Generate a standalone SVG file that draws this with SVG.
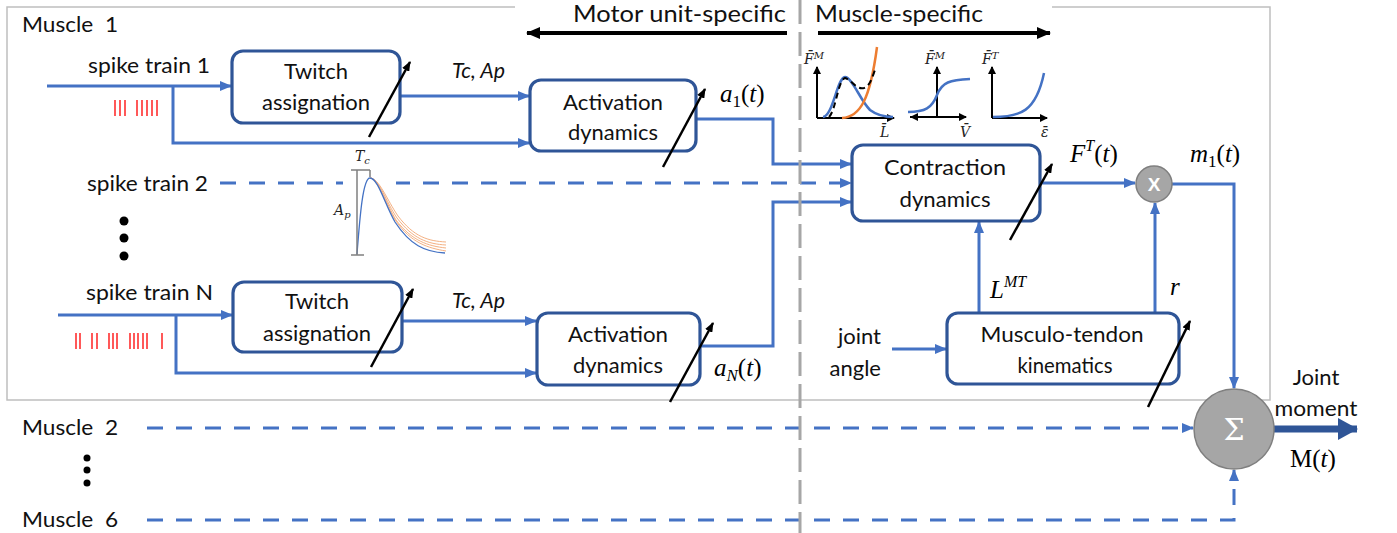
<svg xmlns="http://www.w3.org/2000/svg" width="1397" height="533" viewBox="0 0 1397 533">
  <style>
    .lbl { font-family: Lato, "Open Sans", "Liberation Sans", sans-serif; font-weight: 400; font-size: 22px; fill: #111; }
    .hdr { font-family: Lato, "Open Sans", "Liberation Sans", sans-serif; font-weight: 400; font-size: 23px; fill: #111; }
    .box { fill: #fff; stroke: #2F5597; stroke-width: 3.2; }
    .wire { fill: none; stroke: #4472C4; stroke-width: 3; }
    .dash { fill: none; stroke: #4472C4; stroke-width: 3; stroke-dasharray: 16 13; }
    .tune { fill: none; stroke: #000; stroke-width: 2.5; }
    .math { font-family: "Liberation Serif", "DejaVu Serif", serif; font-size: 25px; fill: #000; }
    .small { font-family: "DejaVu Serif", "Liberation Serif", serif; font-style: italic; font-size: 14px; fill: #222; }
    .spk { fill: none; stroke: #FF0000; stroke-width: 1.3; }
    .axis { fill: none; stroke: #000; stroke-width: 2; }
  </style>
  <defs>
    <marker id="ah" viewBox="0 0 12 10" refX="11" refY="5" markerWidth="12" markerHeight="10" markerUnits="userSpaceOnUse" orient="auto">
      <path d="M0,0 L12,5 L0,10 z" fill="#4472C4"/>
    </marker>
    <marker id="ak" viewBox="0 0 10 8" refX="9" refY="4" markerWidth="10" markerHeight="8" markerUnits="userSpaceOnUse" orient="auto">
      <path d="M0,0 L10,4 L0,8 z" fill="#000"/>
    </marker>
    <marker id="ahd" viewBox="0 0 14 12" refX="13" refY="6" markerWidth="14" markerHeight="12" markerUnits="userSpaceOnUse" orient="auto">
      <path d="M0,0 L14,6 L0,12 z" fill="#000"/>
    </marker>
    <marker id="ax" viewBox="0 0 8 8" refX="7" refY="4" markerWidth="8" markerHeight="8" markerUnits="userSpaceOnUse" orient="auto">
      <path d="M0,0 L8,4 L0,8 z" fill="#000"/>
    </marker>
    <marker id="big" viewBox="0 0 20 22" refX="19" refY="11" markerWidth="20" markerHeight="22" markerUnits="userSpaceOnUse" orient="auto">
      <path d="M0,0 L20,11 L0,22 z" fill="#2F5597"/>
    </marker>
  </defs>

  <rect width="1397" height="533" fill="#fff"/>

  <!-- muscle 1 frame, open at the top where the header sits -->
  <path d="M515,7 H7 V400 H1270 V7 H1052" fill="none" stroke="#BFBFBF" stroke-width="1.5"/>

  <!-- header -->
  <g id="header">
    <text class="hdr" x="573" y="22" textLength="213" lengthAdjust="spacingAndGlyphs">Motor unit-specific</text>
    <text class="hdr" x="815" y="22" textLength="168" lengthAdjust="spacingAndGlyphs">Muscle-specific</text>
    <line x1="787" y1="33" x2="527" y2="33" stroke="#000" stroke-width="4" marker-end="url(#ahd)"/>
    <line x1="818" y1="33" x2="1050" y2="33" stroke="#000" stroke-width="4" marker-end="url(#ahd)"/>
  </g>

  <!-- side labels -->
  <g id="labels">
    <text class="lbl" x="22" y="32" textLength="96" lengthAdjust="spacingAndGlyphs" xml:space="preserve">Muscle  1</text>
    <text class="lbl" x="88" y="73" textLength="122" lengthAdjust="spacingAndGlyphs">spike train 1</text>
    <text class="lbl" x="87" y="191" textLength="121" lengthAdjust="spacingAndGlyphs">spike train 2</text>
    <text class="lbl" x="86" y="300" textLength="127" lengthAdjust="spacingAndGlyphs">spike train N</text>
    <text class="lbl" x="22" y="435" textLength="96" lengthAdjust="spacingAndGlyphs" xml:space="preserve">Muscle  2</text>
    <text class="lbl" x="22" y="527" textLength="96" lengthAdjust="spacingAndGlyphs" xml:space="preserve">Muscle  6</text>
    <text class="lbl" x="881" y="344" text-anchor="end">joint</text>
    <text class="lbl" x="881" y="376" text-anchor="end">angle</text>
    <text class="lbl" x="1316" y="385" text-anchor="middle">Joint</text>
    <text class="lbl" x="1316" y="416" text-anchor="middle" textLength="83" lengthAdjust="spacingAndGlyphs">moment</text>
    <text class="lbl" x="452" y="78" font-style="italic" font-weight="300" textLength="53" lengthAdjust="spacingAndGlyphs">Tc, Ap</text>
    <text class="lbl" x="452" y="308" font-style="italic" font-weight="300" textLength="53" lengthAdjust="spacingAndGlyphs">Tc, Ap</text>
    <!-- ellipses -->
    <circle cx="124" cy="221" r="4.5" fill="#000"/>
    <circle cx="124" cy="238" r="4.5" fill="#000"/>
    <circle cx="124" cy="256" r="4.5" fill="#000"/>
    <circle cx="87" cy="458" r="3.5" fill="#000"/>
    <circle cx="87" cy="470" r="3.5" fill="#000"/>
    <circle cx="87" cy="483" r="3.5" fill="#000"/>
    <!-- spike rasters -->
    <path class="spk" d="M115,100V116M120,100V116M125,100V116M137,100V116M142,100V116M147,100V116M152,100V116M157,100V116"/>
    <path class="spk" d="M76,333V349M80,333V349M92,333V349M97,333V349M109,333V349M113,333V349M117,333V349M130,333V349M134,333V349M138,333V349M143,333V349M147,333V349M162,333V349"/>
  </g>

  <!-- math labels -->
  <g id="symbols">
    <text class="math" x="720" y="102"><tspan font-style="italic">a</tspan><tspan font-size="17" dy="5">1</tspan><tspan dy="-5">(</tspan><tspan font-style="italic">t</tspan>)</text>
    <text class="math" x="714" y="376"><tspan font-style="italic">a</tspan><tspan font-size="17" font-style="italic" dy="5">N</tspan><tspan dy="-5">(</tspan><tspan font-style="italic">t</tspan>)</text>
    <text class="math" x="1070" y="162"><tspan font-style="italic">F</tspan><tspan font-size="16" font-style="italic" dy="-11">T</tspan><tspan dy="11">(</tspan><tspan font-style="italic">t</tspan>)</text>
    <text class="math" x="1190" y="162"><tspan font-style="italic">m</tspan><tspan font-size="17" dy="5">1</tspan><tspan dy="-5">(</tspan><tspan font-style="italic">t</tspan>)</text>
    <text class="math" x="990" y="298"><tspan font-style="italic">L</tspan><tspan font-size="16" font-style="italic" dy="-11">MT</tspan></text>
    <text class="math" x="1170" y="295" font-style="italic" font-size="22">r</text>
    <text class="math" x="1290" y="467">M(<tspan font-style="italic">t</tspan>)</text>
  </g>

  <!-- connectors -->
  <g id="connectors">
    <!-- spike train 1 -->
    <path class="wire" d="M47,86 H231" marker-end="url(#ah)"/>
    <path class="wire" d="M173,86 V143 H529" marker-end="url(#ah)"/>
    <path class="wire" d="M400,96 H529" marker-end="url(#ah)"/>
    <path class="wire" d="M696,119 H773 V164 H851" marker-end="url(#ah)"/>
    <!-- spike train 2 -->
    <path class="dash" d="M220,183 H851" marker-end="url(#ah)"/>
    <!-- spike train N -->
    <path class="wire" d="M58,315 H232" marker-end="url(#ah)"/>
    <path class="wire" d="M176,315 V373 H536" marker-end="url(#ah)"/>
    <path class="wire" d="M402,321 H536" marker-end="url(#ah)"/>
    <path class="wire" d="M700,346 H773 V202 H851" marker-end="url(#ah)"/>
    <!-- muscle-level -->
    <path class="wire" d="M1040,183 H1135" marker-end="url(#ah)"/>
    <path class="wire" d="M892,349 H946" marker-end="url(#ah)"/>
    <path class="wire" d="M979,313 V222" marker-end="url(#ah)"/>
    <path class="wire" d="M1155,313 V203" marker-end="url(#ah)"/>
    <path class="wire" d="M1172,184 H1234 V388" marker-end="url(#ah)"/>
    <path class="dash" d="M147,428 H1193" marker-end="url(#ah)"/>
    <path class="dash" d="M147,520 H1234 V470" marker-end="url(#ah)"/>
    <path d="M1274,429 H1357" stroke="#2F5597" stroke-width="7" fill="none" marker-end="url(#big)"/>
  </g>

  <!-- processing blocks -->
  <g id="twitch1">
    <rect class="box" x="232" y="51" width="168" height="72" rx="11"/>
    <text class="lbl" x="316" y="79" text-anchor="middle">Twitch</text>
    <text class="lbl" x="316" y="110" text-anchor="middle" textLength="108" lengthAdjust="spacingAndGlyphs">assignation</text>
  </g>
  <g id="activation1">
    <rect class="box" x="530" y="80" width="166" height="71" rx="11"/>
    <text class="lbl" x="613" y="110" text-anchor="middle" textLength="100" lengthAdjust="spacingAndGlyphs">Activation</text>
    <text class="lbl" x="613" y="140" text-anchor="middle" textLength="90" lengthAdjust="spacingAndGlyphs">dynamics</text>
  </g>
  <g id="twitchN">
    <rect class="box" x="233" y="282" width="169" height="70" rx="11"/>
    <text class="lbl" x="317" y="309" text-anchor="middle">Twitch</text>
    <text class="lbl" x="317" y="341" text-anchor="middle" textLength="108" lengthAdjust="spacingAndGlyphs">assignation</text>
  </g>
  <g id="activationN">
    <rect class="box" x="537" y="313" width="163" height="72" rx="11"/>
    <text class="lbl" x="618" y="342" text-anchor="middle" textLength="100" lengthAdjust="spacingAndGlyphs">Activation</text>
    <text class="lbl" x="618" y="373" text-anchor="middle" textLength="90" lengthAdjust="spacingAndGlyphs">dynamics</text>
  </g>
  <g id="contraction">
    <rect class="box" x="852" y="145" width="188" height="76" rx="11"/>
    <text class="lbl" x="945" y="175" text-anchor="middle" textLength="122" lengthAdjust="spacingAndGlyphs">Contraction</text>
    <text class="lbl" x="945" y="207" text-anchor="middle" textLength="91" lengthAdjust="spacingAndGlyphs">dynamics</text>
  </g>
  <g id="kinematics">
    <rect class="box" x="947" y="313" width="232" height="71" rx="11"/>
    <text class="lbl" x="1062" y="342" text-anchor="middle" textLength="163" lengthAdjust="spacingAndGlyphs">Musculo-tendon</text>
    <text class="lbl" x="1065" y="373" text-anchor="middle" textLength="95" lengthAdjust="spacingAndGlyphs">kinematics</text>
  </g>
  <g id="multiply">
    <circle cx="1154" cy="184" r="18" fill="#A6A6A6" stroke="#7F7F7F" stroke-width="1.5"/>
    <text x="1154" y="191" text-anchor="middle" font-family="'Liberation Sans', Arial, sans-serif" font-weight="bold" font-size="19" fill="#fff">X</text>
  </g>
  <g id="sum">
    <circle cx="1234" cy="429" r="40" fill="#A6A6A6" stroke="#7F7F7F" stroke-width="1.5"/>
    <text x="1234" y="440" text-anchor="middle" font-family="'DejaVu Serif', 'Liberation Serif', serif" font-size="30" fill="#fff">Σ</text>
  </g>

  <!-- twitch waveform -->
  <g id="twitch-plot">
    <rect x="343" y="150" width="53" height="110" fill="#fff"/>
    <g fill="none" stroke="#F4B183" stroke-width="1">
      <path d="M370,178 C379,178 387,200 398,216 C414,237 428,241 446,242"/>
      <path d="M370,178 C379,178 386,202 397,218 C413,239 428,244 446,245"/>
      <path d="M370,178 C378,178 386,203 396,220 C412,241 428,246 446,248"/>
      <path d="M370,178 C378,178 385,204 396,221 C411,243 428,248 446,251"/>
    </g>
    <path d="M357,254 C360,215 363,178 370,178 C378,178 385,205 395,222 C410,245 425,252 445,253" fill="none" stroke="#4472C4" stroke-width="1.3"/>
    <g stroke="#7F7F7F" stroke-width="1.5" fill="none">
      <path d="M357,170 V255"/>
      <path d="M351,170 H370 M370,170 V177"/>
      <path d="M351,255 H364"/>
    </g>
    <text class="small" x="355" y="161" font-size="14">T<tspan font-size="10" dy="3">c</tspan></text>
    <text class="small" x="334" y="215" font-size="14">A<tspan font-size="10" dy="3">p</tspan></text>
  </g>

  <!-- force relationships -->
  <g id="curves">
    <!-- force-length -->
    <path class="axis" d="M817,118 V67" marker-end="url(#ax)"/>
    <path class="axis" d="M817,118 H894" marker-end="url(#ax)"/>
    <path d="M823,117 C833,116 837,78 845,77 C852,77 860,100 870,110 C878,116 885,117 893,117" fill="none" stroke="#4472C4" stroke-width="2.5"/>
    <path d="M842,118 C860,117 870,100 877,47" fill="none" stroke="#ED7D31" stroke-width="2.5"/>
    <path d="M829,117 C836,110 838,80 845,78 C852,80 856,90 864,88 C870,86 872,78 875,70" fill="none" stroke="#000" stroke-width="2" stroke-dasharray="6 4"/>
    <text class="small" x="804" y="64">F̄<tspan font-size="10" dy="-5">M</tspan></text>
    <text class="small" x="880" y="137">L̄</text>
    <!-- force-velocity -->
    <path class="axis" d="M937,118 V67" marker-end="url(#ax)"/>
    <path class="axis" d="M910,117 H966" marker-end="url(#ax)"/>
    <path class="axis" d="M937,117 H911" marker-end="url(#ax)"/>
    <path d="M908,112 C925,112 932,108 937,95 C942,82 950,80 970,79" fill="none" stroke="#4472C4" stroke-width="2.5"/>
    <text class="small" x="925" y="64">F̄<tspan font-size="10" dy="-5">M</tspan></text>
    <text class="small" x="960" y="137">V̄</text>
    <!-- tendon force-strain -->
    <path class="axis" d="M992,118 V67" marker-end="url(#ax)"/>
    <path class="axis" d="M992,118 H1047" marker-end="url(#ax)"/>
    <path d="M993,117 C1020,117 1036,112 1044,73" fill="none" stroke="#4472C4" stroke-width="2.5"/>
    <text class="small" x="982" y="64">F̄<tspan font-size="10" dy="-5">T</tspan></text>
    <text class="small" x="1041" y="137">ε̄</text>
  </g>

  <!-- tunable-parameter arrows -->
  <g id="tuning">
    <path class="tune" d="M369,137 L410,62" marker-end="url(#ak)"/>
    <path class="tune" d="M663,167 L705,89" marker-end="url(#ak)"/>
    <path class="tune" d="M1010,240 L1052,164" marker-end="url(#ak)"/>
    <path class="tune" d="M371,367 L413,289" marker-end="url(#ak)"/>
    <path class="tune" d="M670,402 L713,323" marker-end="url(#ak)"/>
    <path class="tune" d="M1148,407 L1190,321" marker-end="url(#ak)"/>
  </g>

  <!-- scope divider -->
  <line x1="800" y1="0" x2="800" y2="533" stroke="#A6A6A6" stroke-width="3" stroke-dasharray="24 8"/>
</svg>
